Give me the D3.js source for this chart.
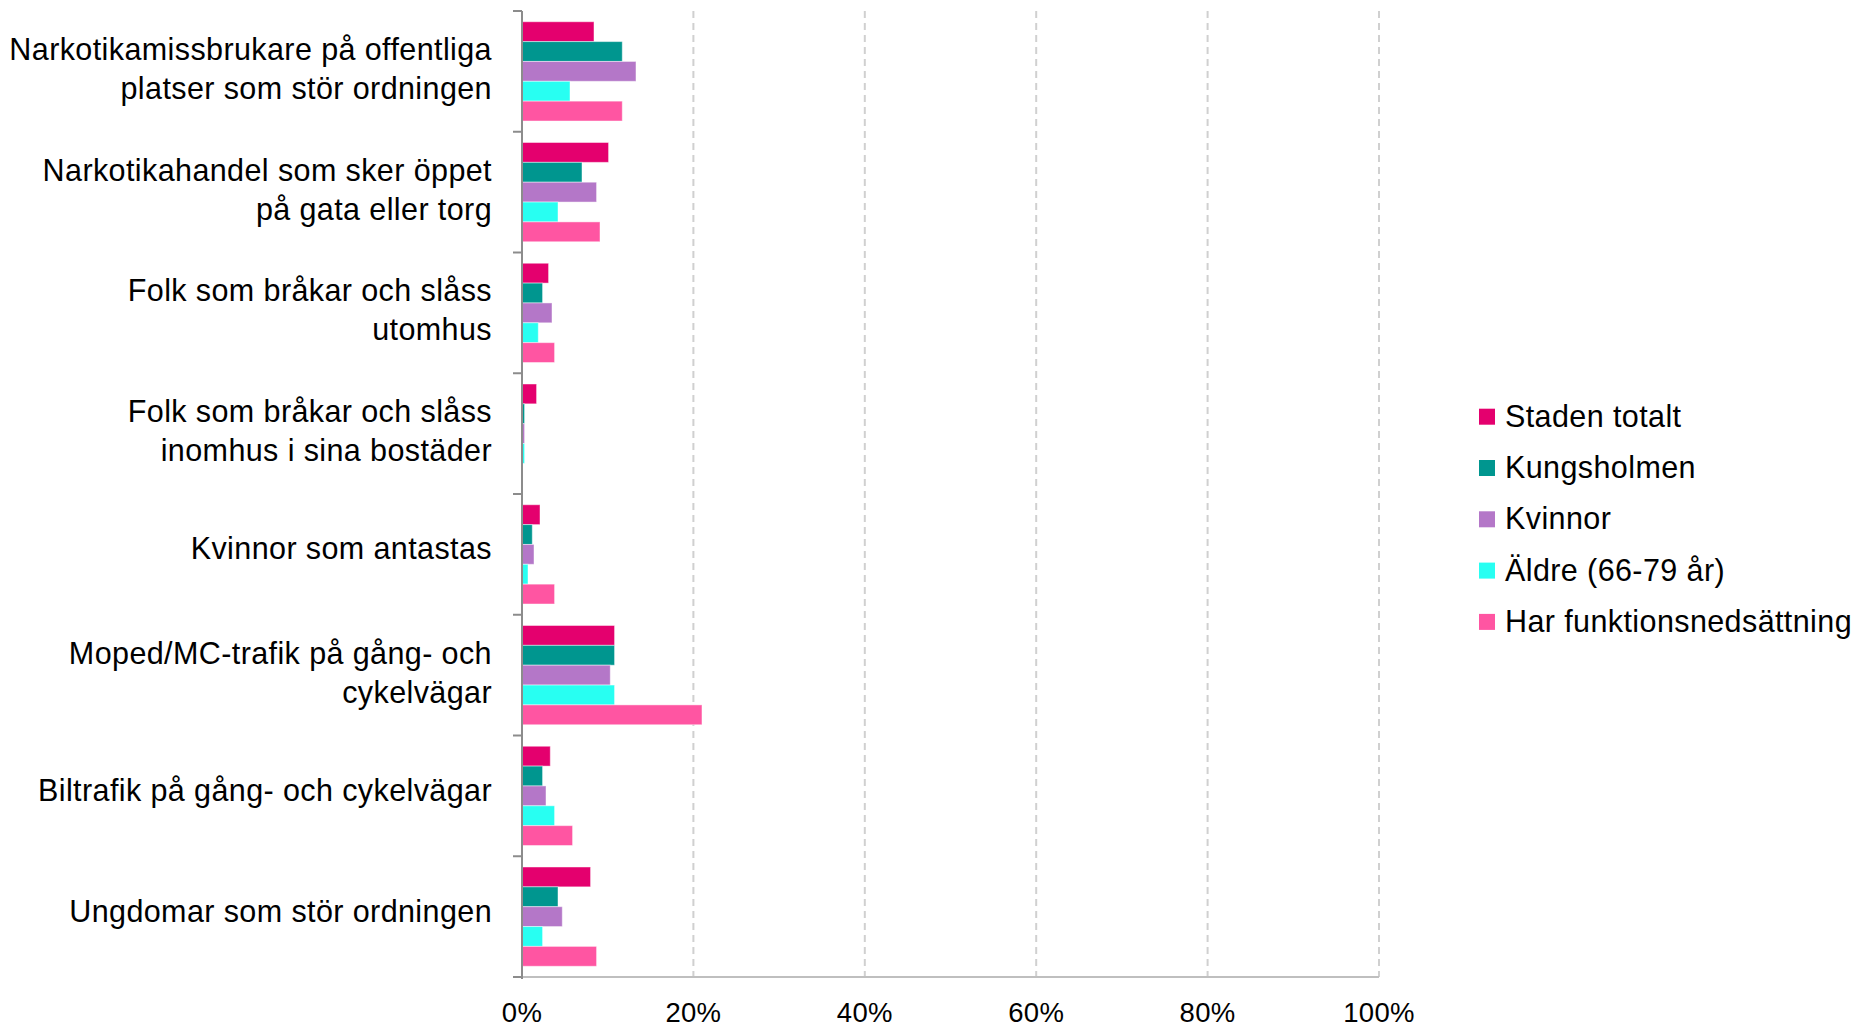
<!DOCTYPE html>
<html>
<head>
<meta charset="utf-8">
<script src="https://cdn.jsdelivr.net/npm/d3@7"></script>
<style>
  html, body { margin: 0; padding: 0; background: #fff; }
  svg { display: block; font-family: "Liberation Sans", Arial, sans-serif; }
</style>
</head>
<body>
<svg id="chart" width="1860" height="1026"></svg>
<script>
// ---- Data ----
const categories = [
  ["Narkotikamissbrukare på offentliga", "platser som stör ordningen"],
  ["Narkotikahandel som sker öppet", "på gata eller torg"],
  ["Folk som bråkar och slåss", "utomhus"],
  ["Folk som bråkar och slåss", "inomhus i sina bostäder"],
  ["Kvinnor som antastas"],
  ["Moped/MC-trafik på gång- och", "cykelvägar"],
  ["Biltrafik på gång- och cykelvägar"],
  ["Ungdomar som stör ordningen"]
];
const seriesNames = ["Staden totalt", "Kungsholmen", "Kvinnor", "Äldre (66-79 år)", "Har funktionsnedsättning"];
const stadenTotalt = [8.4, 10.1, 3.1, 1.7, 2.1, 10.8, 3.3, 8.0];
const kungsholmen  = [11.7, 7.0, 2.4, 0.3, 1.2, 10.8, 2.4, 4.2];
const kvinnor      = [13.3, 8.7, 3.5, 0.3, 1.4, 10.3, 2.8, 4.7];
const aldre        = [5.6, 4.2, 1.9, 0.3, 0.7, 10.8, 3.8, 2.4];
const harFunktion  = [11.7, 9.1, 3.8, 0.0, 3.8, 21.0, 5.9, 8.7];
const xTicks = [0, 20, 40, 60, 80, 100];
const colors = ["#E4006E", "#00968F", "#B477C8", "#28FFF2", "#FF55A2"];

const seriesValues = [stadenTotalt, kungsholmen, kvinnor, aldre, harFunktion];

// ---- Layout ----
const svg = d3.select("#chart");
const x0 = 522, x1 = 1379, yTop = 11, yBottom = 977;

const x = d3.scaleLinear().domain([0, 100]).range([x0, x1]);
const catIdx = d3.range(categories.length);
const y = d3.scaleBand().domain(catIdx).range([yTop, yBottom])
  .paddingInner(0.178).paddingOuter(0.089);
const ySub = d3.scaleBand().domain(d3.range(seriesNames.length)).range([0, y.bandwidth()]);

// Gridlines
svg.append("g").selectAll("line")
  .data(xTicks.filter(d => d > 0))
  .join("line")
  .attr("x1", d => x(d)).attr("x2", d => x(d))
  .attr("y1", yTop).attr("y2", yBottom)
  .attr("stroke", "#d0d0d0").attr("stroke-width", 2)
  .attr("stroke-dasharray", "7,5");

// Bars
const flat = [];
catIdx.forEach(ci => seriesValues.forEach((arr, si) => flat.push({ci, si, v: arr[ci]})));
svg.append("g").selectAll("rect")
  .data(flat)
  .join("rect")
  .attr("x", x(0))
  .attr("y", d => y(d.ci) + ySub(d.si))
  .attr("width", d => Math.max(0, x(d.v) - x(0)))
  .attr("height", ySub.bandwidth())
  .attr("fill", d => colors[d.si])
  .attr("stroke", "#ffffff").attr("stroke-opacity", 0.45).attr("stroke-width", 1);

// Bottom axis line
svg.append("line")
  .attr("x1", x0 - 9).attr("x2", x1).attr("y1", yBottom).attr("y2", yBottom)
  .attr("stroke", "#bfbfbf").attr("stroke-width", 2);

// Left axis line & ticks at band boundaries
svg.append("line")
  .attr("x1", x0).attr("x2", x0).attr("y1", yTop).attr("y2", yBottom + 2)
  .attr("stroke", "#8c8c8c").attr("stroke-width", 2);
svg.append("g").selectAll("line")
  .data(d3.range(categories.length + 1))
  .join("line")
  .attr("x1", x0 - 9).attr("x2", x0)
  .attr("y1", i => yTop + i * y.step()).attr("y2", i => yTop + i * y.step())
  .attr("stroke", "#8c8c8c").attr("stroke-width", 2);

// X tick labels
svg.append("g").selectAll("text")
  .data(xTicks)
  .join("text")
  .attr("x", d => x(d)).attr("y", 1021.5)
  .attr("text-anchor", "middle")
  .attr("font-size", 27.5).attr("fill", "#000")
  .attr("letter-spacing", 0.3)
  .text(d => d + "%");

// Category labels
const labels = svg.append("g").selectAll("text")
  .data(catIdx)
  .join("text")
  .attr("text-anchor", "end")
  .attr("font-size", 30.5).attr("fill", "#000")
  .attr("letter-spacing", 0.4);
labels.each(function(ci) {
  const lines = categories[ci];
  const c = y(ci) + y.bandwidth() / 2;
  const start = lines.length === 1 ? c + 5 : c - 11.5;
  d3.select(this).selectAll("tspan")
    .data(lines)
    .join("tspan")
    .attr("x", 492)
    .attr("y", (d, i) => start + i * 39)
    .text(d => d);
});

// Legend
const legend = svg.append("g").selectAll("g")
  .data(seriesNames)
  .join("g")
  .attr("transform", (d, i) => `translate(1479, ${426.7 + i * 51.3})`);
legend.append("rect")
  .attr("x", 0).attr("y", -18).attr("width", 16).attr("height", 16)
  .attr("fill", (d, i) => colors[i]);
legend.append("text")
  .attr("x", 26).attr("y", 0)
  .attr("font-size", 30.5).attr("fill", "#000")
  .attr("letter-spacing", 0.4)
  .text(d => d);
</script>
</body>
</html>
